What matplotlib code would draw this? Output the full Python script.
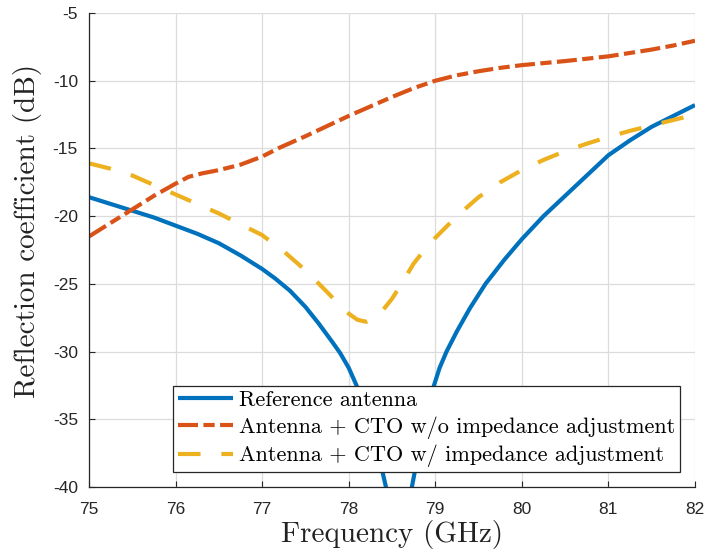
import matplotlib
matplotlib.use("Agg")
import matplotlib.pyplot as plt

# Frequency sweep (GHz) and reflection coefficient (dB) for each configuration
freq_ref = [75.0, 75.25, 75.5, 75.75, 76.0, 76.25, 76.5, 76.75, 77.0, 77.15, 77.32,
            77.5, 77.65, 77.8, 77.9, 78.0, 78.09, 78.2, 78.3, 78.38, 78.43, 78.5,
            78.55, 78.6, 78.65, 78.7, 78.73, 78.8, 78.9, 78.98, 79.05, 79.13, 79.25,
            79.4, 79.58, 79.8, 80.0, 80.25, 80.5, 80.75, 81.0, 81.25, 81.5, 81.75, 82.0]
s11_ref = [-18.6, -19.1, -19.6, -20.1, -20.7, -21.3, -22.0, -22.9, -23.9, -24.6, -25.5,
           -26.7, -27.9, -29.2, -30.1, -31.2, -32.5, -34.5, -36.7, -38.6, -40.0, -42.5,
           -45.0, -47.0, -44.5, -41.5, -40.0, -37.6, -34.5, -32.6, -31.2, -30.0, -28.5,
           -26.8, -25.0, -23.2, -21.7, -20.0, -18.5, -17.0, -15.5, -14.4, -13.4, -12.6,
           -11.8]

freq_wo = [75.0, 75.25, 75.5, 75.75, 76.0, 76.15, 76.3, 76.5, 76.75, 77.0, 77.2,
           77.5, 77.75, 78.0, 78.25, 78.5, 78.75, 79.0, 79.25, 79.5, 79.75, 80.0,
           80.5, 81.0, 81.25, 81.5, 81.75, 82.0]
s11_wo = [-21.5, -20.5, -19.5, -18.5, -17.6, -17.1, -16.85, -16.6, -16.2, -15.6, -14.95,
          -14.1, -13.35, -12.6, -11.9, -11.2, -10.55, -10.0, -9.6, -9.3, -9.05, -8.85,
          -8.55, -8.2, -7.95, -7.7, -7.4, -7.05]

freq_w = [75.0, 75.25, 75.5, 75.75, 76.0, 76.25, 76.5, 76.75, 77.0, 77.25, 77.5,
          77.75, 77.9, 78.0, 78.1, 78.2, 78.3, 78.4, 78.5, 78.6, 78.75, 78.9, 79.0,
          79.25, 79.5, 79.75, 80.0, 80.25, 80.5, 80.75, 81.0, 81.25, 81.5, 81.75, 82.0]
s11_w = [-16.1, -16.5, -17.0, -17.7, -18.4, -19.1, -19.8, -20.6, -21.4, -22.6, -24.0,
         -25.6, -26.6, -27.2, -27.65, -27.8, -27.55, -26.9, -26.1, -25.1, -23.5, -22.3,
         -21.6, -20.0, -18.6, -17.5, -16.6, -15.85, -15.2, -14.65, -14.15, -13.7, -13.3,
         -12.9, -12.5]

labels = ["Reference antenna",
          "Antenna + CTO w/o impedance adjustment",
          "Antenna + CTO w/ impedance adjustment"]
colors = ["#0072BD", "#D95319", "#EDB120"]

x_ticks = [75, 76, 77, 78, 79, 80, 81, 82]
y_ticks = [-40, -35, -30, -25, -20, -15, -10, -5]

serif = "cmr10"
axis_col = "#262626"

fig = plt.figure(figsize=(7.07, 5.56), dpi=100)
ax = fig.add_axes([89 / 707, 1 - 487 / 556, 606 / 707, 474 / 556])

lw = 3.0
ax.plot(freq_ref, s11_ref, color=colors[0], lw=lw, solid_capstyle="butt",
        solid_joinstyle="round", label=labels[0])
ax.plot(freq_wo, s11_wo, color=colors[1], lw=lw, dash_capstyle="butt",
        dash_joinstyle="round", linestyle=(0, (4.8, 1.3, 2.7, 1.3)), label=labels[1])
ax.plot(freq_w, s11_w, color=colors[2], lw=lw, dash_capstyle="butt",
        dash_joinstyle="round", linestyle=(0, (5.4, 5.0)), label=labels[2])

ax.set_xlim(75, 82)
ax.set_ylim(-40, -5)
ax.set_xticks(x_ticks)
ax.set_yticks(y_ticks)
ax.set_xticklabels([str(v) for v in x_ticks], fontfamily="Liberation Sans")
ax.set_yticklabels([str(v) for v in y_ticks], fontfamily="Liberation Sans")
ax.tick_params(axis="both", direction="in", length=4, width=0.8, colors=axis_col,
               labelsize=12.5)
ax.tick_params(axis="x", pad=11)
ax.tick_params(axis="y", pad=8)

ax.grid(True, color="#dcdcdc", lw=0.9)
ax.set_axisbelow(True)
for side in ("top", "right"):
    ax.spines[side].set_visible(False)
for side in ("left", "bottom"):
    ax.spines[side].set_color(axis_col)
    ax.spines[side].set_linewidth(0.9)

ax.set_xlabel("Frequency (GHz)", fontfamily=serif, fontsize=21, labelpad=2,
              color="#222222")
ax.set_ylabel("Reflection coefficient (dB)", fontfamily=serif, fontsize=21,
              color="#222222")
ax.yaxis.set_label_coords(-0.077, 0.54)

leg = ax.legend(loc="lower right", bbox_to_anchor=(0.975, 0.032),
                prop={"family": serif, "size": 16},
                handlelength=2.5, handletextpad=0.27, borderpad=0.2,
                labelspacing=0.28, borderaxespad=0.0, fancybox=False,
                framealpha=1.0, edgecolor=axis_col)
leg.get_frame().set_linewidth(0.9)

fig.savefig("out.png", dpi=100)
